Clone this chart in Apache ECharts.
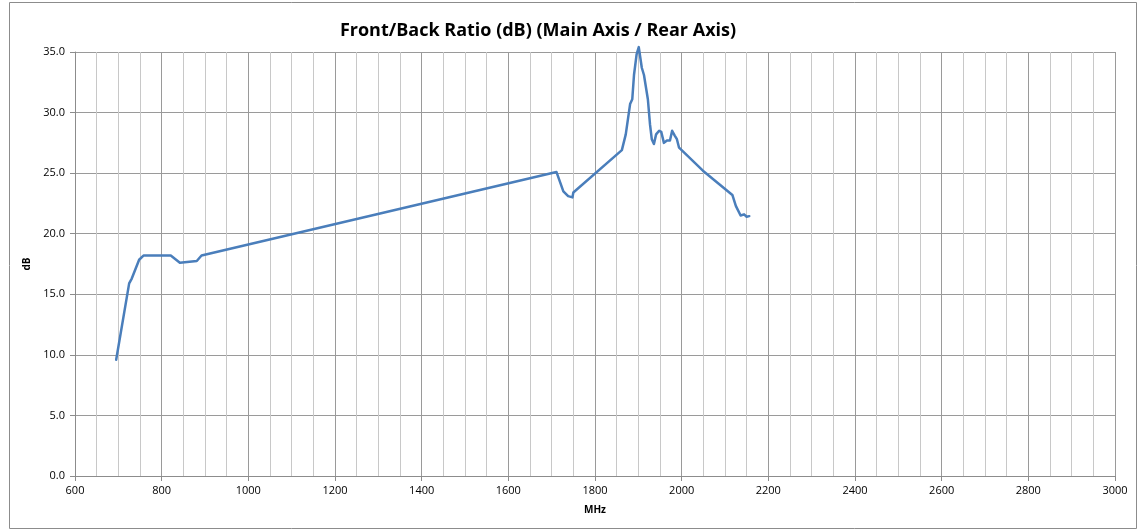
<!DOCTYPE html>
<html>
<head>
<meta charset="utf-8">
<script src="https://cdn.jsdelivr.net/npm/echarts@6/dist/echarts.min.js"></script>
<style>
  html, body { margin: 0; padding: 0; background: #fff; }
  #chart { width: 1142px; height: 530px; }
</style>
</head>
<body>
<div id="chart"></div>
<script>
// frequency points (MHz)
const freqMHz = [
  695, 725, 731, 748, 758, 821, 842, 881, 892,
  1711, 1727, 1738, 1748, 1750, 1862,
  1871, 1881, 1886, 1890, 1896, 1901, 1908, 1913, 1922, 1927, 1931, 1936,
  1941, 1948, 1953, 1959, 1966, 1973, 1978, 1984, 1989, 1994,
  2049, 2117, 2125, 2136, 2144, 2150, 2156
];
// front/back ratio (dB)
const ratioDb = [
  9.6, 15.9, 16.3, 17.85, 18.2, 18.2, 17.6, 17.75, 18.2,
  25.1, 23.5, 23.1, 23.0, 23.4, 26.9,
  28.2, 30.7, 31.1, 33.1, 34.8, 35.4, 33.7, 33.1, 31.1, 29.0, 27.8, 27.4,
  28.2, 28.5, 28.4, 27.5, 27.7, 27.7, 28.5, 28.1, 27.8, 27.1,
  25.2, 23.2, 22.3, 21.5, 21.6, 21.4, 21.45
];
const yTicks = [0, 5, 10, 15, 20, 25, 30, 35];

const chart = echarts.init(document.getElementById('chart'));
const fontFam = '"Open Sans", "Liberation Sans", sans-serif';

const option = {
  animation: false,
  title: {
    text: 'Front/Back Ratio (dB) (Main Axis / Rear Axis)',
    left: 533,
    top: 17,
    textAlign: 'center',
    textStyle: { fontFamily: fontFam, fontSize: 18, fontWeight: 'bold', color: '#000' }
  },
  graphic: [{
    type: 'rect',
    shape: { x: 9.5, y: 2.5, width: 1127, height: 526 },
    style: { fill: 'none', stroke: '#8c8c8c', lineWidth: 1 },
    silent: true
  }],
  grid: { left: 75, right: 27, top: 52, bottom: 54 },
  xAxis: {
    type: 'value',
    min: 600,
    max: 3000,
    interval: 200,
    name: 'MHz',
    nameLocation: 'middle',
    nameGap: 29,
    nameTextStyle: { fontFamily: fontFam, fontSize: 10, fontWeight: 'bold', color: '#000' },
    axisLine: { show: true, lineStyle: { color: '#8c8c8c' } },
    axisTick: { show: true, length: 5, lineStyle: { color: '#8c8c8c' } },
    axisLabel: { fontFamily: fontFam, fontSize: 11, color: '#000', margin: 9, formatter: v => String(v) },
    splitLine: { show: true, lineStyle: { color: '#9a9a9a', width: 1 } },
    minorTick: { show: false, splitNumber: 4 },
    minorSplitLine: { show: true, lineStyle: { color: '#c8c8c8', width: 1 } }
  },
  yAxis: {
    type: 'value',
    min: yTicks[0],
    max: yTicks[yTicks.length - 1],
    interval: 5,
    name: 'dB',
    nameLocation: 'middle',
    nameGap: 40,
    nameRotate: 90,
    nameTextStyle: { fontFamily: fontFam, fontSize: 10, fontWeight: 'bold', color: '#000' },
    axisLine: { show: true, lineStyle: { color: '#8c8c8c' } },
    axisTick: { show: true, length: 5, lineStyle: { color: '#8c8c8c' } },
    axisLabel: {
      fontFamily: fontFam, fontSize: 11, color: '#000', margin: 10,
      formatter: v => v.toFixed(1)
    },
    splitLine: { show: true, lineStyle: { color: '#9a9a9a', width: 1 } }
  },
  series: [{
    type: 'line',
    data: freqMHz.map((f, i) => [f, ratioDb[i]]),
    showSymbol: false,
    smooth: false,
    clip: false,
    lineStyle: { color: '#4a7ebb', width: 2.5, join: 'round', cap: 'round' },
    itemStyle: { color: '#4a7ebb' }
  }]
};

chart.setOption(option);
window.addEventListener('resize', () => chart.resize());
</script>
</body>
</html>
